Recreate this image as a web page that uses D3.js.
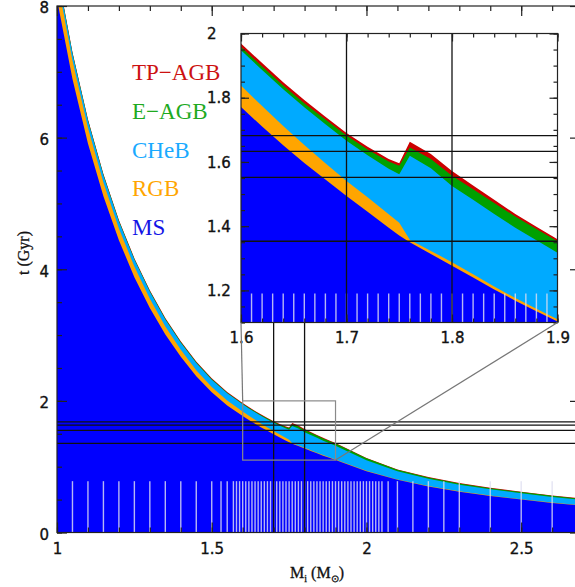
<!DOCTYPE html>
<html>
<head>
<meta charset="utf-8">
<script src="https://cdn.jsdelivr.net/npm/d3@7"></script>
<style>
  body { margin: 0; background: #fff; }
  svg { display: block; }
</style>
</head>
<body>
<svg id="chart" width="575" height="587"></svg>
<script>
// Stellar model grid: initial mass (Msun) and duration of each phase (Gyr)
const masses   = [1.00, 1.05, 1.10, 1.15, 1.20, 1.25, 1.30, 1.35, 1.40, 1.45, 1.50, 1.55,
                  1.60, 1.62, 1.64, 1.66, 1.68, 1.70, 1.72, 1.74, 1.75, 1.76, 1.78, 1.80,
                  1.82, 1.84, 1.86, 1.88, 1.90, 2.00, 2.10, 2.20, 2.30, 2.40, 2.50, 2.60, 2.70];
const msAge    = [8.10, 6.89, 5.91, 5.11, 4.44, 3.88, 3.41, 3.01, 2.67, 2.375, 2.13, 1.93,
                  1.771, 1.71, 1.652, 1.597, 1.545, 1.494, 1.445, 1.395, 1.371, 1.350, 1.313, 1.277,
                  1.240, 1.203, 1.168, 1.135, 1.103, 0.93, 0.80, 0.70, 0.62, 0.555, 0.50, 0.45, 0.405];
const rgbDur   = [0.32, 0.28, 0.24, 0.21, 0.18, 0.16, 0.14, 0.12, 0.105, 0.092, 0.082, 0.074,
                  0.067, 0.064, 0.060, 0.056, 0.051, 0.047, 0.045, 0.042, 0.040, 0.008, 0.010, 0.011,
                  0.010, 0.009, 0.008, 0.008, 0.007, 0.007, 0.006, 0.006, 0.006, 0.006, 0.006, 0.006, 0.006];
const chebDur  = [0.105, 0.105, 0.106, 0.106, 0.107, 0.107, 0.108, 0.108, 0.109, 0.109, 0.110, 0.110,
                  0.110, 0.112, 0.114, 0.117, 0.121, 0.125, 0.131, 0.142, 0.151, 0.261, 0.257, 0.237,
                  0.232, 0.226, 0.219, 0.213, 0.207, 0.160, 0.125, 0.110, 0.100, 0.095, 0.090, 0.085, 0.080];
const eagbDur  = [0.010, 0.010, 0.010, 0.010, 0.010, 0.010, 0.010, 0.010, 0.010, 0.010, 0.010, 0.010,
                  0.010, 0.011, 0.012, 0.013, 0.015, 0.016, 0.018, 0.022, 0.026, 0.026, 0.029, 0.032,
                  0.033, 0.034, 0.035, 0.035, 0.036, 0.030, 0.022, 0.020, 0.020, 0.018, 0.018, 0.017, 0.016];
const tpagbDur = [0.012, 0.012, 0.012, 0.012, 0.012, 0.012, 0.012, 0.012, 0.012, 0.012, 0.012, 0.011,
                  0.011, 0.011, 0.010, 0.010, 0.009, 0.008, 0.008, 0.008, 0.008, 0.018, 0.016, 0.015,
                  0.012, 0.010, 0.008, 0.007, 0.006, 0.006, 0.006, 0.006, 0.006, 0.006, 0.006, 0.006, 0.006];

const phases       = ["MS", "RGB", "CHeB", "E-AGB", "TP-AGB"];
const phaseColors  = ["#0000ff", "#ffa500", "#00aaff", "#00a000", "#cc0000"];
const legendLabels = ["TP\u2212AGB", "E\u2212AGB", "CHeB", "RGB", "MS"];
const legendColors = ["#cc1111", "#1faa1f", "#1aaaff", "#ffa500", "#1414e6"];

// Axis tick labels
const mainXTicks  = [1, 1.5, 2, 2.5];
const mainYTicks  = [0, 2, 4, 6, 8];
const insetXTicks = [1.6, 1.7, 1.8, 1.9];
const insetYTicks = [1.2, 1.4, 1.6, 1.8, 2];

// Reference ages (Gyr) and masses (Msun) marked with black lines
const refAges   = [1.682, 1.633, 1.552, 1.353];
const refMasses = [1.7, 1.8];

// Masses of computed models (short pale marks along the bottom)
const mainModelMasses = [1.05, 1.10, 1.15, 1.20, 1.25, 1.30, 1.35, 1.40, 1.45, 1.50, 1.53, 1.55,
  1.57, 1.58, 1.59, 1.60, 1.61, 1.62, 1.63, 1.64, 1.65, 1.66, 1.67, 1.68, 1.69, 1.70,
  1.71, 1.72, 1.73, 1.74, 1.75, 1.76, 1.77, 1.78, 1.79, 1.80, 1.81, 1.82, 1.83, 1.84,
  1.85, 1.86, 1.87, 1.88, 1.89, 1.90, 1.91, 1.92, 1.93, 1.94, 1.95, 1.96, 1.97, 1.98,
  1.99, 2.00, 2.01, 2.02, 2.03, 2.04, 2.05, 2.07, 2.10, 2.15, 2.20, 2.25, 2.30, 2.40, 2.50, 2.60];
const insetModelMasses = [1.61, 1.62, 1.63, 1.64, 1.65, 1.66, 1.67, 1.68, 1.69, 1.70,
  1.71, 1.72, 1.73, 1.74, 1.75, 1.76, 1.77, 1.78, 1.79, 1.80,
  1.81, 1.82, 1.83, 1.84, 1.85, 1.86, 1.87, 1.88, 1.89];
const mainMarkTop  = 0.78;
const insetMarkTop = 1.19;

// Zoomed window
const zoomMass = [1.6, 1.9];
const zoomAge  = [1.1, 2.0];

// ---------------------------------------------------------------
const svg = d3.select("#chart");
const defs = svg.append("defs");
const durations = [msAge, rgbDur, chebDur, eagbDur, tpagbDur];
const rows = masses.map((m, i) => {
  let acc = 0;
  return { m, tops: durations.map(a => (acc += a[i])) };
});

const x  = d3.scaleLinear().domain([1, 2.69]).range([57, 580]);
const y  = d3.scaleLinear().domain([0, 8]).range([532.5, 6]);
const xi = d3.scaleLinear().domain(zoomMass).range([241, 557.5]);
const yi = d3.scaleLinear().domain(zoomAge).range([322.5, 33.5]);

function addClip(id, xs, ys) {
  const [x0, x1] = xs.range(), [y0, y1] = ys.range();
  defs.append("clipPath").attr("id", id).append("rect")
    .attr("x", x0).attr("y", y1).attr("width", x1 - x0).attr("height", y0 - y1);
}

// cumulative phase ends, painted from the outermost phase inwards
function drawBands(g, xs, ys) {
  for (let k = phases.length - 1; k >= 0; k--) {
    const area = d3.area()
      .x(d => xs(d.m))
      .y0(ys(0))
      .y1(d => ys(d.tops[k]));
    g.append("path").datum(rows).attr("d", area).attr("fill", phaseColors[k]);
  }
}

function drawModelMarks(g, xs, ys, list, base, top) {
  g.append("g").selectAll("line").data(list).join("line")
    .attr("x1", d => xs(d)).attr("x2", d => xs(d))
    .attr("y1", ys(base)).attr("y2", ys(top))
    .attr("stroke", "rgba(222,222,240,0.82)").attr("stroke-width", 1.4);
}

function styleAxis(a, font, size) {
  a.select(".domain").remove();
  a.selectAll("line").attr("stroke", "#222").attr("stroke-width", 1.2);
  a.selectAll("text").attr("font-family", font).attr("font-size", size).attr("fill", "#111")
    .attr("stroke", "#111").attr("stroke-width", 0.35);
  return a;
}

function frameAxes(g, xs, ys, o) {
  const [xb, xt] = ys.range();
  const [yl, yr] = xs.range();
  const xMinor = xs.ticks(o.xMinorCount);
  const yMinor = ys.ticks(o.yMinorCount);
  const put = (axis, tr) => styleAxis(g.append("g").attr("transform", tr).call(axis), o.font, o.size);
  // bottom
  put(d3.axisBottom(xs).tickValues(xMinor).tickSizeInner(-o.minor).tickSizeOuter(0).tickFormat(""), `translate(0,${xb})`);
  put(d3.axisBottom(xs).tickValues(o.xMajor).tickSizeInner(-o.major).tickSizeOuter(0)
      .tickPadding(o.xPad).tickFormat(o.xLabels ? d => String(d) : ""), `translate(0,${xb})`);
  // top
  put(d3.axisTop(xs).tickValues(xMinor).tickSizeInner(-o.minor).tickSizeOuter(0).tickFormat(""), `translate(0,${xt})`);
  put(d3.axisTop(xs).tickValues(o.xMajor).tickSizeInner(-o.major).tickSizeOuter(0).tickFormat(""), `translate(0,${xt})`);
  // left
  put(d3.axisLeft(ys).tickValues(yMinor).tickSizeInner(-o.minor).tickSizeOuter(0).tickFormat(""), `translate(${yl},0)`);
  const la = put(d3.axisLeft(ys).tickValues(o.yMajor).tickSizeInner(-o.major).tickSizeOuter(0)
      .tickPadding(o.yPad).tickFormat(d => String(d)), `translate(${yl},0)`);
  la.selectAll("text").attr("dy", o.yDy);
  if (o.yAnchor) la.selectAll("text").attr("text-anchor", o.yAnchor).attr("x", -o.yPad);
  // right
  put(d3.axisRight(ys).tickValues(yMinor).tickSizeInner(-o.minor).tickSizeOuter(0).tickFormat(""), `translate(${yr},0)`);
  put(d3.axisRight(ys).tickValues(o.yMajor).tickSizeInner(-o.major).tickSizeOuter(0).tickFormat(""), `translate(${yr},0)`);
  // frame
  g.append("rect").attr("x", yl).attr("y", xt).attr("width", yr - yl).attr("height", xb - xt)
    .attr("fill", "none").attr("stroke", "#222").attr("stroke-width", 1.2);
}

// ---------------- main panel ----------------
addClip("clip-main", x, y);
const main = svg.append("g");
const mainPlot = main.append("g").attr("clip-path", "url(#clip-main)");
drawBands(mainPlot, x, y);
drawModelMarks(mainPlot, x, y, mainModelMasses, 0, mainMarkTop);

mainPlot.append("g").selectAll("line").data(refAges).join("line")
  .attr("x1", x.range()[0]).attr("x2", x.range()[1])
  .attr("y1", d => y(d)).attr("y2", d => y(d))
  .attr("stroke", "#111").attr("stroke-width", 1.3);
mainPlot.append("g").selectAll("line").data(refMasses).join("line")
  .attr("x1", d => x(d)).attr("x2", d => x(d))
  .attr("y1", y(0)).attr("y2", yi.range()[0])
  .attr("stroke", "#111").attr("stroke-width", 1.3);

// zoom window outline
mainPlot.append("rect")
  .attr("x", x(zoomMass[0])).attr("y", y(zoomAge[1]))
  .attr("width", x(zoomMass[1]) - x(zoomMass[0])).attr("height", y(zoomAge[0]) - y(zoomAge[1]))
  .attr("fill", "none").attr("stroke", "#8a8a8a").attr("stroke-width", 1.2);

frameAxes(main, x, y, {
  xMajor: mainXTicks, yMajor: mainYTicks, xMinorCount: 20, yMinorCount: 16,
  major: 10, minor: 5, xPad: 11, yPad: 8, yDy: "0.45em", xLabels: true,
  font: "DejaVu Sans", size: 15
});

// axis titles
svg.append("text")
  .attr("transform", "translate(29,253) rotate(-90)")
  .attr("text-anchor", "middle")
  .attr("font-family", "Liberation Serif").attr("font-size", 16).attr("fill", "#111")
  .attr("stroke", "#111").attr("stroke-width", 0.3)
  .text("t (Gyr)");
const xt = svg.append("text")
  .attr("x", 317).attr("y", 578).attr("text-anchor", "middle")
  .attr("font-family", "Liberation Serif").attr("font-size", 16).attr("fill", "#111")
  .attr("stroke", "#111").attr("stroke-width", 0.3);
xt.append("tspan").text("M");
xt.append("tspan").attr("font-size", 10).attr("dy", 4).text("i");
xt.append("tspan").attr("dy", -4).text(" (M");
xt.append("tspan").attr("font-size", 10).attr("dy", 4).text("\u2299");
xt.append("tspan").attr("dy", -4).text(")");

// ---------------- inset panel ----------------
addClip("clip-inset", xi, yi);
const inset = svg.append("g");
inset.append("rect")
  .attr("x", xi.range()[0]).attr("y", yi.range()[1])
  .attr("width", xi.range()[1] - xi.range()[0]).attr("height", yi.range()[0] - yi.range()[1])
  .attr("fill", "#fff");
const insetPlot = inset.append("g").attr("clip-path", "url(#clip-inset)");
drawBands(insetPlot, xi, yi);
drawModelMarks(insetPlot, xi, yi, insetModelMasses, zoomAge[0], insetMarkTop);
insetPlot.append("g").selectAll("line").data(refAges).join("line")
  .attr("x1", xi.range()[0]).attr("x2", xi.range()[1])
  .attr("y1", d => yi(d)).attr("y2", d => yi(d))
  .attr("stroke", "#111").attr("stroke-width", 1.3);
insetPlot.append("g").selectAll("line").data(refMasses).join("line")
  .attr("x1", d => xi(d)).attr("x2", d => xi(d))
  .attr("y1", yi.range()[0]).attr("y2", yi.range()[1])
  .attr("stroke", "#111").attr("stroke-width", 1.3);

frameAxes(inset, xi, yi, {
  xMajor: insetXTicks, yMajor: insetYTicks, xMinorCount: 15, yMinorCount: 18,
  major: 8, minor: 4, xPad: 10, yPad: 34, yDy: "0.35em", yAnchor: "start", xLabels: true,
  font: "DejaVu Sans", size: 15
});

// connectors from the zoom window to the inset
const conn = svg.append("g").attr("stroke", "#777").attr("stroke-width", 1.2);
conn.append("line")
  .attr("x1", x(zoomMass[0])).attr("y1", y(zoomAge[1]))
  .attr("x2", xi(zoomMass[0])).attr("y2", yi(zoomAge[0]));
conn.append("line")
  .attr("x1", x(zoomMass[1])).attr("y1", y(zoomAge[0]))
  .attr("x2", xi(zoomMass[1])).attr("y2", yi(zoomAge[0]));

// ---------------- legend ----------------
svg.append("g").selectAll("text").data(legendLabels).join("text")
  .attr("x", 132).attr("y", (d, i) => 80 + i * 38.8)
  .attr("font-family", "Liberation Serif").attr("font-size", 23)
  .attr("fill", (d, i) => legendColors[i])
  .text(d => d);
</script>
</body>
</html>
